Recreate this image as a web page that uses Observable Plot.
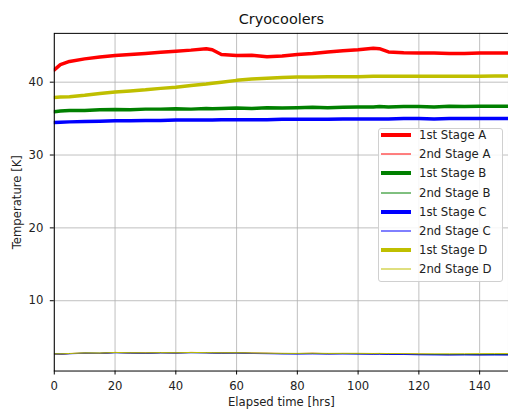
<!DOCTYPE html>
<html>
<head>
<meta charset="utf-8">
<script src="https://cdn.jsdelivr.net/npm/d3@7"></script>
<script src="https://cdn.jsdelivr.net/npm/@observablehq/plot@0.6"></script>
<style>
html, body { margin: 0; padding: 0; overflow: hidden; background: white; }
#wrap { position: relative; width: 508px; height: 415px; overflow: hidden; font-family: "DejaVu Sans", sans-serif; }
#legend { position: absolute; left: 378px; top: 128px; width: 125px; height: 154px; background: rgba(255,255,255,0.85); border: 1px solid #d0d0d0; border-radius: 3px; box-sizing: border-box; }
.row { position: absolute; left: 0; height: 16px; transform: translateY(-50%); display: flex; align-items: center; }
.row svg { margin-left: 2px; }
.row span { margin-left: 8px; font-size: 11.7px; color: #222; white-space: nowrap; }
</style>
</head>
<body>
<div id="wrap"><div id="chart"></div><div id="legend"></div></div>
<script>
const title = "Cryocoolers";
const xLabel = "Elapsed time [hrs]";
const yLabel = "Temperature [K]";
const xTicks = [0, 20, 40, 60, 80, 100, 120, 140];
const yTicks = [10, 20, 30, 40];

const times = [0, 2, 5, 10, 15, 20, 25, 30, 35, 40, 45, 50, 52, 55, 60, 65, 70, 75, 80, 85, 90, 95, 100, 105, 107, 110, 115, 120, 125, 130, 135, 140, 145, 150];

const stage1A = [41.7, 42.4, 42.85, 43.2, 43.45, 43.65, 43.8, 43.95, 44.1, 44.25, 44.4, 44.6, 44.45, 43.8, 43.65, 43.7, 43.5, 43.6, 43.8, 43.95, 44.15, 44.3, 44.45, 44.65, 44.6, 44.15, 44.05, 44.0, 44.0, 43.95, 43.95, 44.0, 44.0, 44.0];
const stage2A = [2.7, 2.68, 2.75, 2.8, 2.78, 2.9, 2.85, 2.82, 2.88, 2.85, 2.9, 2.88, 2.86, 2.84, 2.86, 2.8, 2.78, 2.76, 2.75, 2.78, 2.74, 2.76, 2.75, 2.72, 2.74, 2.7, 2.68, 2.65, 2.62, 2.6, 2.62, 2.6, 2.62, 2.6];
const stage1B = [35.95, 36.05, 36.1, 36.1, 36.2, 36.25, 36.2, 36.3, 36.3, 36.35, 36.3, 36.4, 36.35, 36.4, 36.45, 36.4, 36.5, 36.45, 36.5, 36.55, 36.5, 36.55, 36.6, 36.6, 36.65, 36.6, 36.65, 36.65, 36.6, 36.7, 36.65, 36.7, 36.7, 36.7];
const stage2B = [2.72, 2.7, 2.74, 2.82, 2.8, 2.88, 2.84, 2.8, 2.86, 2.84, 2.88, 2.86, 2.84, 2.82, 2.84, 2.79, 2.77, 2.74, 2.74, 2.76, 2.73, 2.75, 2.73, 2.71, 2.72, 2.69, 2.67, 2.64, 2.62, 2.6, 2.61, 2.6, 2.61, 2.6];
const stage1C = [34.45, 34.5, 34.55, 34.6, 34.65, 34.7, 34.7, 34.75, 34.75, 34.8, 34.8, 34.8, 34.8, 34.85, 34.85, 34.85, 34.85, 34.9, 34.9, 34.9, 34.9, 34.95, 34.95, 34.95, 34.95, 34.95, 35.0, 35.0, 34.95, 35.0, 35.0, 35.0, 35.0, 35.0];
const stage2C = [2.68, 2.66, 2.72, 2.78, 2.76, 2.86, 2.82, 2.78, 2.84, 2.82, 2.86, 2.84, 2.82, 2.8, 2.82, 2.76, 2.73, 2.7, 2.68, 2.7, 2.68, 2.69, 2.68, 2.66, 2.66, 2.64, 2.62, 2.58, 2.56, 2.55, 2.56, 2.55, 2.55, 2.55];
const stage1D = [37.9, 37.95, 38.0, 38.2, 38.45, 38.65, 38.8, 38.95, 39.15, 39.3, 39.55, 39.75, 39.85, 40.0, 40.25, 40.45, 40.55, 40.65, 40.7, 40.7, 40.75, 40.75, 40.75, 40.8, 40.8, 40.8, 40.8, 40.8, 40.8, 40.8, 40.8, 40.8, 40.85, 40.85];
const stage2D = [2.7, 2.7, 2.76, 2.82, 2.8, 2.9, 2.86, 2.84, 2.88, 2.86, 2.9, 2.88, 2.87, 2.85, 2.86, 2.82, 2.8, 2.78, 2.77, 2.8, 2.77, 2.78, 2.78, 2.76, 2.77, 2.75, 2.74, 2.72, 2.72, 2.72, 2.73, 2.74, 2.75, 2.75];

const seriesNames = ["1st Stage A", "2nd Stage A", "1st Stage B", "2nd Stage B", "1st Stage C", "2nd Stage C", "1st Stage D", "2nd Stage D"];
const seriesValues = [stage1A, stage2A, stage1B, stage2B, stage1C, stage2C, stage1D, stage2D];
const seriesColors = ["#ff0000", "#ff0000", "#008000", "#008000", "#0000ff", "#0000ff", "#bfbf00", "#bfbf00"];
const seriesWidths = [3.5, 1, 3.5, 1, 3.5, 1, 3.5, 1];

const series = seriesNames.map((name, k) => ({
  name,
  color: seriesColors[k],
  width: seriesWidths[k],
  data: times.map((t, i) => ({t, v: seriesValues[k][i]}))
}));

const chart = Plot.plot({
  width: 510,
  height: 415,
  marginLeft: 54,
  marginRight: 0,
  marginTop: 33,
  marginBottom: 43,
  style: {fontFamily: "DejaVu Sans", fontSize: "11.7px", color: "#222", background: "white"},
  x: {domain: [0, 149.5], label: null},
  y: {domain: [0.35, 46.7], label: null},
  marks: [
    Plot.gridX(xTicks, {stroke: "#b0b0b0", strokeOpacity: 1, strokeWidth: 0.8}),
    Plot.gridY(yTicks, {stroke: "#b0b0b0", strokeOpacity: 1, strokeWidth: 0.8}),
    ...series.map(s => Plot.line(s.data, {x: "t", y: "v", stroke: s.color, strokeWidth: s.width, clip: true})),
    Plot.axisX({ticks: xTicks, tickSize: 4, tickPadding: 7, label: null, stroke: "black", fill: "#222"}),
    Plot.axisY({ticks: yTicks, tickSize: 4, tickPadding: 7, label: null, stroke: "black", fill: "#222"}),
    Plot.frame({stroke: "black", strokeWidth: 1}),
    Plot.text([title], {frameAnchor: "top", lineAnchor: "middle", textAnchor: "middle", dy: -14.5, fontSize: 14.5, fill: "#111"}),
    Plot.text([xLabel], {frameAnchor: "bottom", lineAnchor: "middle", textAnchor: "middle", dy: 31, fontSize: 11.7, fill: "#222"}),
    Plot.text([yLabel], {frameAnchor: "left", lineAnchor: "middle", textAnchor: "middle", dx: -37, rotate: -90, fontSize: 11.7, fill: "#222"})
  ]
});
document.getElementById("chart").appendChild(chart);

const legend = document.getElementById("legend");
series.forEach((s, i) => {
  const row = document.createElement("div");
  row.className = "row";
  row.style.top = (6 + i * 19.2) + "px";
  row.innerHTML = `<svg width="30" height="8"><line x1="0" x2="30" y1="4" y2="4" stroke="${s.color}" stroke-width="${s.width === 1 ? 1 : 4}"/></svg><span>${s.name}</span>`;
  legend.appendChild(row);
});
</script>
</body>
</html>
